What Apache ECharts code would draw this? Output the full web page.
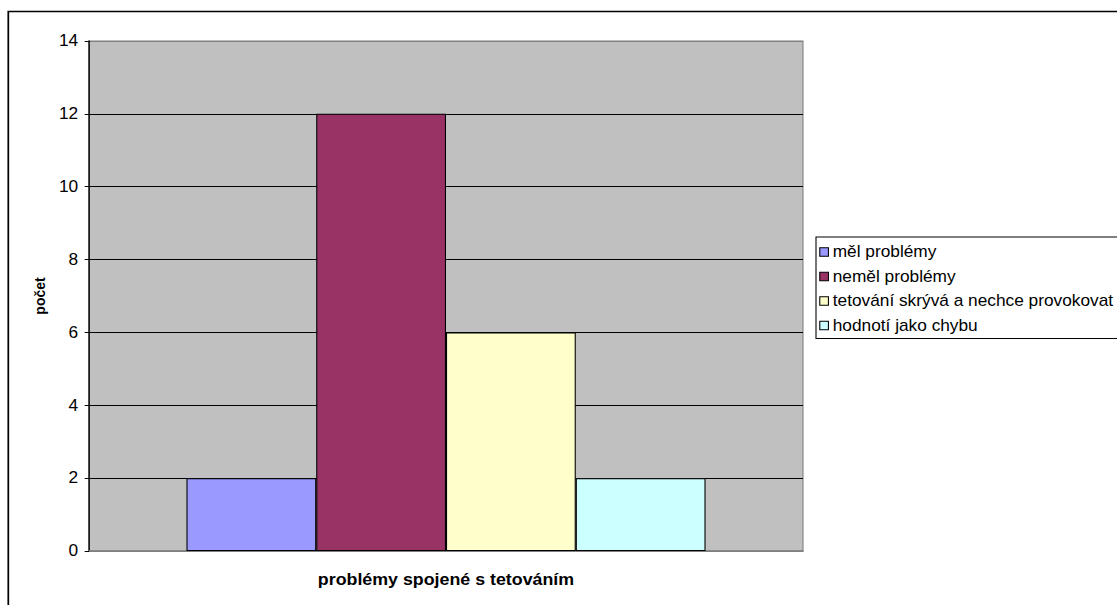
<!DOCTYPE html>
<html>
<head>
<meta charset="utf-8">
<script src="https://cdn.jsdelivr.net/npm/echarts@6/dist/echarts.min.js"></script>
<style>
html,body{margin:0;padding:0;background:#fff;overflow:hidden;}
#c{width:1034px;height:605px;transform:scaleX(1.080271);transform-origin:0 0;}
</style>
</head>
<body>
<div id="c"></div>
<script>
const categories = ['problémy spojené s tetováním'];
const seriesNames = ['měl problémy', 'neměl problémy', 'tetování skrývá a nechce provokovat', 'hodnotí jako chybu'];
const seriesValues = [2, 12, 6, 2];
const seriesColors = ['#9999FF', '#993366', '#FFFFCC', '#CCFFFF'];
const yTicks = { min: 0, max: 14, interval: 2 };

// The reference picture is slightly stretched horizontally; the chart is drawn
// at a narrower width and scaled in x by CSS so the text keeps its proportions.
const W = 1034;
const SX = 1117 / W;
const X = v => v / SX;

const FONT = 'Arial, "Liberation Sans", sans-serif';
const chart = echarts.init(document.getElementById('c'), null, { renderer: 'svg' });

const series = seriesNames.map((name, i) => ({
  name: name,
  type: 'bar',
  data: [seriesValues[i]],
  barGap: '0%',
  barCategoryGap: '27.3%',
  itemStyle: { color: seriesColors[i], borderColor: '#000', borderWidth: 1 },
  emphasis: { disabled: true },
  animation: false
}));

chart.setOption({
  animation: false,
  textStyle: { fontFamily: FONT },
  graphic: [{
    type: 'rect',
    z: -10,
    shape: { x: X(8.3), y: 11.5, width: 1200, height: 700 },
    style: { fill: 'none', stroke: '#000', lineWidth: 1.6 }
  }],
  grid: {
    left: X(89), top: 41, right: W - X(803), bottom: 54,
    show: true, backgroundColor: '#C0C0C0', borderColor: '#808080', borderWidth: 1
  },
  legend: {
    orient: 'vertical',
    left: X(816), top: 237,
    itemWidth: 8, itemHeight: 8.5, itemGap: 8.5,
    padding: [7, 30, 5, 3],
    borderColor: '#000', borderWidth: 1, borderRadius: 0,
    icon: 'rect',
    itemStyle: { borderColor: '#000', borderWidth: 1 },
    textStyle: { fontFamily: FONT, fontSize: 16, color: '#000', padding: [0, 0, 0, -1] },
    data: seriesNames
  },
  xAxis: {
    type: 'category',
    data: categories,
    name: categories[0],
    nameLocation: 'middle',
    nameGap: 20,
    nameTextStyle: { fontFamily: FONT, fontSize: 16.5, fontWeight: 'bold', color: '#000' },
    axisLabel: { show: false },
    axisTick: { show: false },
    axisLine: { lineStyle: { color: '#808080', width: 1.5 } },
    splitLine: { show: false }
  },
  yAxis: {
    type: 'value',
    min: yTicks.min, max: yTicks.max, interval: yTicks.interval,
    name: 'počet',
    nameLocation: 'middle',
    nameGap: 37,
    nameRotate: 90,
    nameTextStyle: { fontFamily: FONT, fontSize: 14, fontWeight: 'bold', color: '#000' },
    axisLine: { show: true, lineStyle: { color: '#000', width: 1.3 } },
    axisTick: { show: true, length: 4, lineStyle: { color: '#000' } },
    axisLabel: { fontFamily: FONT, fontSize: 16, color: '#000', margin: 10 },
    splitLine: { show: true, lineStyle: { color: ['#808080', '#000', '#000', '#000', '#000', '#000', '#000', '#808080'], width: 1 } }
  },
  series: series
});
</script>
</body>
</html>
